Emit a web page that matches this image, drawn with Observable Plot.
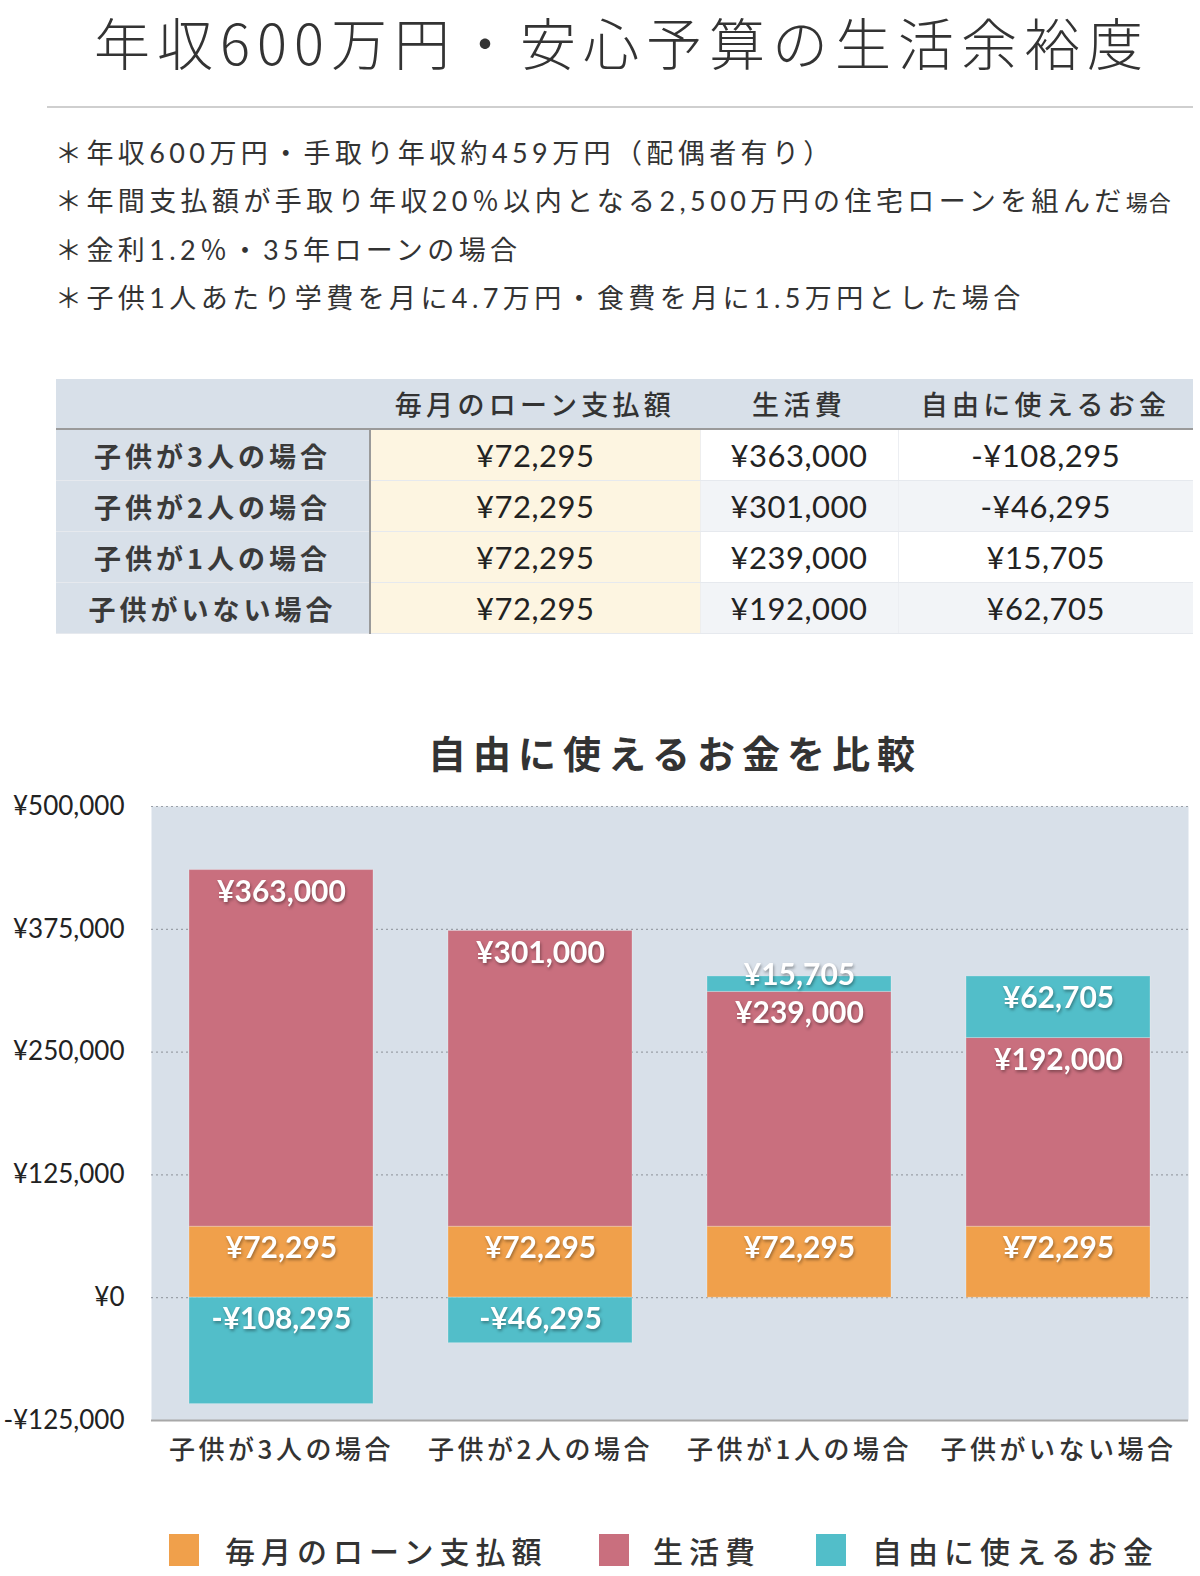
<!DOCTYPE html>
<html><head><meta charset="utf-8">
<script src="https://cdn.jsdelivr.net/npm/d3@7"></script>
<script src="https://cdn.jsdelivr.net/npm/@observablehq/plot@0.6"></script>
<style>
html,body{margin:0;padding:0;background:#fff}
body{width:1200px;height:1576px;position:relative;overflow:hidden;font-family:"Lato","Noto Sans CJK JP",sans-serif;color:#333}
.abs{position:absolute}
#title{top:0;left:44px;width:1156px;line-height:normal;text-align:center;font-family:"Noto Sans CJK JP",sans-serif;font-size:56px;font-weight:300;letter-spacing:7px;color:#333;white-space:nowrap}
#hr{top:106px;left:47px;width:1146px;height:2px;background:#cfcfcf}
#notes{top:129px;left:55px;font-size:27px;line-height:47.7px;letter-spacing:4.4px;color:#333;white-space:nowrap}
#notes .small{font-size:22px;letter-spacing:1px}
table{position:absolute;top:379px;left:56px;width:1137px;border-collapse:collapse;table-layout:fixed}
td,th{padding:0;text-align:center;white-space:nowrap;overflow:hidden}
thead th{height:49px;background:#d8e0e9;font-family:"Noto Sans CJK JP",sans-serif;font-weight:500;font-size:27px;letter-spacing:4.3px;color:#333;border-bottom:2px solid #9a9a9a}
tbody td{height:50px;border-bottom:1px solid #e6e9ee;font-size:31px;letter-spacing:0.5px;color:#222}
tbody th{height:50px;background:#d8e0e9;font-family:"Noto Sans CJK JP",sans-serif;font-weight:700;font-size:27px;letter-spacing:4px;color:#3a3a3a;border-right:2px solid #9a9a9a;border-bottom:1px solid #e6e9ee}
tbody td.loan{background:#fdf5e1;border-right:1px solid #eee}
tbody td.c3{border-right:1px solid #eceef2}
tbody tr:nth-child(odd) td.c3, tbody tr:nth-child(odd) td.c4{background:#ffffff}
tbody tr:nth-child(even) td.c3, tbody tr:nth-child(even) td.c4{background:#f2f4f7}
#ctitle{top:726px;left:150px;width:1050px;height:52px;line-height:52px;text-align:center;font-family:"Noto Sans CJK JP",sans-serif;font-weight:700;font-size:38px;letter-spacing:7px;color:#333}
#chart{top:770px;left:0}
.leg-sw{position:absolute;width:30px;height:32px;top:1534px}
.leg-tx{position:absolute;top:1528px;height:44px;line-height:44px;font-family:"Noto Sans CJK JP",sans-serif;font-weight:500;font-size:30px;letter-spacing:6px;color:#333;white-space:nowrap}
</style>
</head><body>
<div id="title" class="abs"></div>
<div id="hr" class="abs"></div>
<div id="notes" class="abs"></div>
<table id="tbl"></table>
<div id="ctitle" class="abs"></div>
<div id="chart" class="abs"></div>
<div id="legend"></div>
<script>
// ---- data ----
const titleText = "年収600万円・安心予算の生活余裕度";
const notes = [
  ["＊年収600万円・手取り年収約459万円（配偶者有り）", ""],
  ["＊年間支払額が手取り年収20％以内となる2,500万円の住宅ローンを組んだ", "場合"],
  ["＊金利1.2％・35年ローンの場合", ""],
  ["＊子供1人あたり学費を月に4.7万円・食費を月に1.5万円とした場合", ""]
];
const categories = ["子供が3人の場合", "子供が2人の場合", "子供が1人の場合", "子供がいない場合"];
const seriesNames = ["毎月のローン支払額", "生活費", "自由に使えるお金"];
const loan = [72295, 72295, 72295, 72295];
const living = [363000, 301000, 239000, 192000];
const free = [-108295, -46295, 15705, 62705];
const colors = ["#f0a04b", "#c96f7e", "#52bec9"];
const yTicks = [-125000, 0, 125000, 250000, 375000, 500000];
const chartTitle = "自由に使えるお金を比較";

const yen = v => (v < 0 ? "-¥" : "¥") + d3.format(",")(Math.abs(v));

// ---- header texts ----
document.getElementById("title").textContent = titleText;
document.getElementById("ctitle").textContent = chartTitle;
const notesEl = document.getElementById("notes");
notes.forEach(([a, b]) => {
  const div = document.createElement("div");
  div.textContent = a;
  if (b) { const s = document.createElement("span"); s.className = "small"; s.textContent = b; div.appendChild(s); }
  notesEl.appendChild(div);
});

// ---- table ----
const tbl = document.getElementById("tbl");
const colWidths = [314, 330, 198, 295];
tbl.innerHTML = "<colgroup>" + colWidths.map(w => `<col style="width:${w}px">`).join("") + "</colgroup>" +
  "<thead><tr><th></th>" + seriesNames.map(s => `<th>${s}</th>`).join("") + "</tr></thead>" +
  "<tbody>" + categories.map((c, i) =>
    `<tr><th>${c}</th><td class="loan">${yen(loan[i])}</td><td class="c3">${yen(living[i])}</td><td class="c4">${yen(free[i])}</td></tr>`
  ).join("") + "</tbody>";

// ---- chart data ----
const rows = [];
categories.forEach((c, i) => {
  const vals = [loan[i], living[i], free[i]];
  let pos = 0;
  vals.forEach((v, k) => {
    let top;
    if (v >= 0) { pos += v; top = pos; } else { top = 0; }
    rows.push({cat: c, series: seriesNames[k], value: v, top});
  });
});
const big = rows.filter(d => Math.abs(d.value) >= 30000);
const small = rows.filter(d => Math.abs(d.value) < 30000);

const labelStyle = {fill: "white", fontSize: 30, fontWeight: "bold", fontFamily: "Lato, 'Noto Sans CJK JP', sans-serif", textAnchor: "middle", lineAnchor: "middle"};

const plot = Plot.plot({
  width: 1200,
  height: 720,
  marginLeft: 151,
  marginRight: 12,
  marginTop: 36,
  marginBottom: 70,
  x: {domain: categories, paddingInner: 0.29, paddingOuter: 0.14, axis: null},
  y: {domain: [-125000, 500000], axis: null},
  color: {domain: seriesNames, range: colors},
  marks: [
    Plot.frame({fill: "#d8e0e9", stroke: null}),
    Plot.ruleY(yTicks.filter(t => t > -125000), {stroke: "#9aa0a8", strokeDasharray: "2,3", strokeWidth: 1.2}),
    Plot.barY(rows, {x: "cat", y: "value", fill: "series", stroke: "white", strokeOpacity: 0.25, strokeWidth: 1}),
    Plot.ruleY([-125000], {stroke: "#a8a8a8", strokeWidth: 2}),
    Plot.text(big, {x: "cat", y: "top", text: d => yen(d.value), dy: 22, ...labelStyle}),
    Plot.text(small, {x: "cat", y: "top", text: d => yen(d.value), dy: -1, ...labelStyle}),
    Plot.axisY({ticks: yTicks, tickFormat: yen, tickSize: 0, tickPadding: 27, fontSize: 26, fill: "#222", fontFamily: "Lato, sans-serif", label: null}),
    Plot.axisX({tickSize: 0, tickPadding: 20, fontSize: 26, fill: "#333", fontFamily: "'Noto Sans CJK JP', sans-serif", fontWeight: 500, label: null})
  ]
});
document.getElementById("chart").appendChild(plot);
// cosmetic: shadow on value labels, letter-spacing on category labels
d3.select(plot).selectAll('g[aria-label="text"]').style("filter", "drop-shadow(1px 2px 1.5px rgba(0,0,0,0.35))");
d3.select(plot).selectAll('g[aria-label="x-axis tick label"] text').attr("letter-spacing", "3.5px");

// ---- legend ----
const legend = document.getElementById("legend");
const swX = [169, 599, 816], txX = [225, 653, 872];
seriesNames.forEach((s, k) => {
  const sw = document.createElement("div"); sw.className = "leg-sw"; sw.style.left = swX[k] + "px"; sw.style.background = colors[k];
  const tx = document.createElement("div"); tx.className = "leg-tx"; tx.style.left = txX[k] + "px"; tx.textContent = s;
  legend.appendChild(sw); legend.appendChild(tx);
});
</script>
</body></html>
